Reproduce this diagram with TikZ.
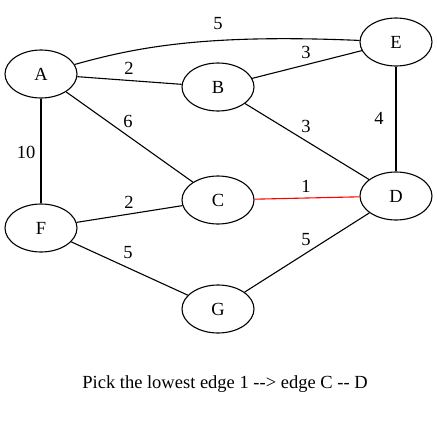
\documentclass[tikz,border=0pt]{standalone}
\usepackage{fontspec}
\setmainfont{Liberation Serif}
\usetikzlibrary{shapes.geometric}
\begin{document}
\begin{tikzpicture}[x=1pt,y=-1pt,
  vert/.style={draw,line width=1.1pt,ellipse,minimum width=72pt,minimum height=48pt,inner sep=0pt,font=\fontsize{18.5}{20}\selectfont},
  lbl/.style={font=\fontsize{18.5}{20}\selectfont,inner sep=0pt},
  edge/.style={line width=1.1pt}]
\useasboundingbox (0,0) rectangle (437,429);
\node[vert] (A) at (41,74) {A};
\node[vert] (B) at (218,87) {B};
\node[vert] (E) at (396,42) {E};
\node[vert] (C) at (218,200) {C};
\node[vert] (D) at (396,196) {D};
\node[vert] (F) at (41,228) {F};
\node[vert] (G) at (218,309) {G};
\draw[edge] (A) .. controls (140,46) and (210,34) .. (E);
\draw[edge] (A) -- (B);
\draw[edge] (B) -- (E);
\draw[edge] (A) -- (C);
\draw[edge] (B) -- (D);
\draw[edge] (E) -- (D);
\draw[edge] (A) -- (F);
\draw[edge,red] (C) -- (D);
\draw[edge] (F) -- (C);
\draw[edge] (F) -- (G);
\draw[edge] (G) -- (D);
\node[lbl] (l1) at (218,24) {5};
\node[lbl] (l2) at (129,68) {2};
\node[lbl] (l3) at (306,52) {3};
\node[lbl] (l4) at (128,121) {6};
\node[lbl] (l5) at (306,126) {3};
\node[lbl] (l6) at (379,118) {4};
\node[lbl] (l7) at (26,152) {10};
\node[lbl] (l8) at (306,186) {1};
\node[lbl] (l9) at (129,202) {2};
\node[lbl] (l10) at (128,253) {5};
\node[lbl] (l11) at (306,240) {5};
\node[lbl] (cap) at (225,384) {Pick the lowest edge 1 {-}{-}> edge C {-}{-} D};
\end{tikzpicture}
\end{document}
